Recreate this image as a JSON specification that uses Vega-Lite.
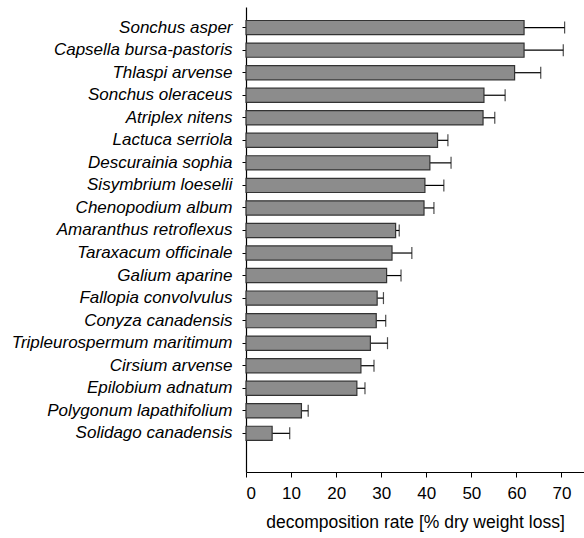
{
  "$schema": "https://vega.github.io/schema/vega-lite/v6.json",
  "width": 338,
  "height": 465,
  "autosize": {"type": "none"},
  "padding": {"left": 246, "top": 7, "right": 0, "bottom": 66},
  "background": "white",
  "config": {"view": {"stroke": null}, "font": "Liberation Sans"},
  "data": {"values": [
    {"species": "Sonchus asper", "rate": 61.7, "err": 70.7},
    {"species": "Capsella bursa-pastoris", "rate": 61.7, "err": 70.4},
    {"species": "Thlaspi arvense", "rate": 59.6, "err": 65.4},
    {"species": "Sonchus oleraceus", "rate": 52.8, "err": 57.5},
    {"species": "Atriplex nitens", "rate": 52.6, "err": 55.2},
    {"species": "Lactuca serriola", "rate": 42.5, "err": 44.8},
    {"species": "Descurainia sophia", "rate": 40.8, "err": 45.5},
    {"species": "Sisymbrium loeselii", "rate": 39.7, "err": 43.9},
    {"species": "Chenopodium album", "rate": 39.5, "err": 41.7},
    {"species": "Amaranthus retroflexus", "rate": 33.2, "err": 34.0},
    {"species": "Taraxacum officinale", "rate": 32.4, "err": 36.8},
    {"species": "Galium aparine", "rate": 31.2, "err": 34.4},
    {"species": "Fallopia convolvulus", "rate": 29.1, "err": 30.5},
    {"species": "Conyza canadensis", "rate": 28.9, "err": 31.0},
    {"species": "Tripleurospermum maritimum", "rate": 27.6, "err": 31.4},
    {"species": "Cirsium arvense", "rate": 25.5, "err": 28.4},
    {"species": "Epilobium adnatum", "rate": 24.6, "err": 26.4},
    {"species": "Polygonum lapathifolium", "rate": 12.3, "err": 13.8},
    {"species": "Solidago canadensis", "rate": 5.8, "err": 9.7}
  ]},
  "encoding": {
    "y": {
      "field": "species", "type": "nominal", "sort": null,
      "scale": {"paddingInner": 0.37, "paddingOuter": 1.185, "align": 0.3},
      "axis": {
        "title": null, "labelFontStyle": "italic", "labelFontSize": 17,
        "labelColor": "black", "labelFont": "Liberation Sans", "labelLimit": 300,
        "tickSize": 4, "tickColor": "black", "domainColor": "black",
        "labelPadding": 10, "domainWidth": 1.2
      }
    }
  },
  "layer": [
    {
      "mark": {"type": "rule", "color": "black", "strokeWidth": 1.2},
      "encoding": {
        "x": {"field": "rate", "type": "quantitative"},
        "x2": {"field": "err"}
      }
    },
    {
      "mark": {"type": "tick", "color": "black", "thickness": 1.2, "size": 12},
      "encoding": {"x": {"field": "err", "type": "quantitative"}}
    },
    {
      "mark": {"type": "bar", "fill": "#8c8c8c", "stroke": "#333333", "strokeWidth": 1.2},
      "encoding": {
        "x": {
          "field": "rate", "type": "quantitative",
          "scale": {"domain": [0, 75], "nice": false},
          "axis": {
            "title": "decomposition rate [% dry weight loss]",
            "titleFontSize": 17.5, "titleFontWeight": "normal", "titleColor": "black",
            "titlePadding": 12, "titleFont": "Liberation Sans",
            "values": [0, 10, 20, 30, 40, 50, 60, 70],
            "labelFontSize": 17, "labelColor": "black", "labelPadding": 8,
            "tickSize": 5, "tickColor": "black", "domainColor": "black",
            "domainWidth": 1.2, "grid": false
          }
        }
      }
    }
  ]
}
